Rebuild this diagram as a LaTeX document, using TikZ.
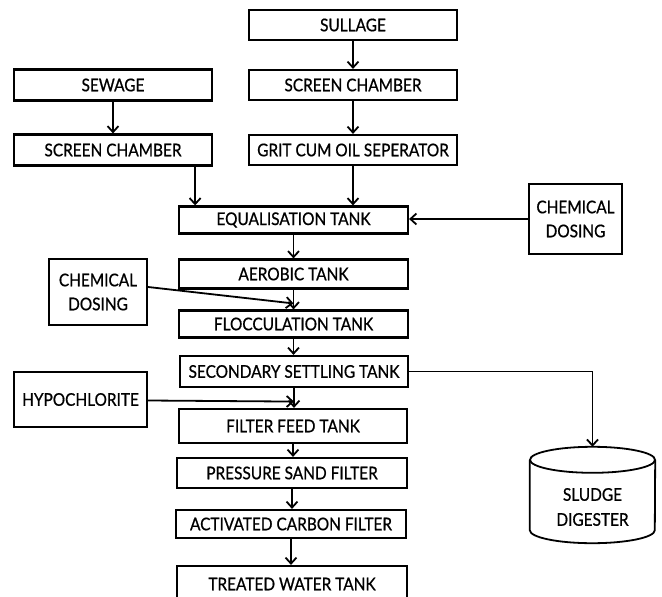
\documentclass[tikz,border=0pt]{standalone}
\usepackage{fontspec}
\setmainfont{Lato}[FakeStretch=0.88,FakeBold=0.8]
\usetikzlibrary{arrows.meta,calc}
\tikzset{
  box/.style={draw, line width=2.2pt, inner sep=0pt, align=center,
    font=\fontsize{17.5}{24}\selectfont},
  arr/.style={line width=1.8pt, -{Straight Barb[length=6pt,width=11pt]}},
  plain/.style={line width=1.8pt}
}
\begin{document}
\begin{tikzpicture}[x=1pt,y=-1pt]
\useasboundingbox (0,0) rectangle (662,597);
% right branch
\node[box, minimum width=208pt, minimum height=30pt] (sul) at (353,25) {SULLAGE};
\node[box, minimum width=208pt, minimum height=30pt] (scR) at (353,85) {SCREEN CHAMBER};
\node[box, minimum width=208pt, minimum height=30pt] (grit) at (353,150) {GRIT CUM OIL SEPERATOR};
% left branch
\node[box, minimum width=198pt, minimum height=31pt] (sew) at (113,85) {SEWAGE};
\node[box, minimum width=198pt, minimum height=31pt] (scL) at (113,150) {SCREEN CHAMBER};
% main chain
\node[box, minimum width=229pt, minimum height=27pt] (eq) at (293.5,220) {EQUALISATION TANK};
\node[box, minimum width=93pt, minimum height=70pt] (chemR) at (575.5,219) {CHEMICAL\\DOSING};
\node[box, minimum width=229pt, minimum height=29pt] (aer) at (293.5,274) {AEROBIC TANK};
\node[box, minimum width=98pt, minimum height=66pt] (chemL) at (98,292) {CHEMICAL\\DOSING};
\node[box, minimum width=229pt, minimum height=27pt] (floc) at (293.5,324) {FLOCCULATION TANK};
\node[box, minimum width=228pt, minimum height=31pt] (sec) at (294,371.5) {SECONDARY SETTLING TANK};
\node[box, minimum width=133pt, minimum height=55pt] (hypo) at (80.5,399.5) {HYPOCHLORITE};
\node[box, minimum width=228pt, minimum height=34pt] (ffeed) at (293,426) {FILTER FEED TANK};
\node[box, minimum width=230pt, minimum height=30pt] (psf) at (292,473) {PRESSURE SAND FILTER};
\node[box, minimum width=230pt, minimum height=28pt] (acf) at (291,524) {ACTIVATED CARBON FILTER};
\node[box, minimum width=230pt, minimum height=36pt] (twt) at (292,584) {TREATED WATER TANK};
% sludge digester (cylinder outline around an empty named node)
\node[inner sep=0pt, minimum width=125pt, minimum height=96pt] (dig) at (592.5,495) {};
\draw[plain, fill=white] ($(dig.north west)+(0,13)$) -- ($(dig.south west)+(0,-13)$)
  arc[start angle=180, end angle=360, x radius=62.5, y radius=-13]
  -- ($(dig.north east)+(0,13)$);
\draw[plain] ($(dig.north)+(0,13)$) ellipse[x radius=62.5, y radius=13];
\node[inner sep=0pt, align=center, font=\fontsize{17.5}{25}\selectfont] (diglabel) at (592.5,507) {SLUDGE\\DIGESTER};
% connectors
\draw[arr] (sul.south) -- (scR.north);
\draw[arr] (scR.south) -- (grit.north);
\draw[arr] (sew.south) -- (scL.north);
\draw[arr] ([xshift=-18pt]scL.south east) -- ([xshift=-18pt]scL.south east |- eq.north);
\draw[arr] (grit.south) -- (grit.south |- eq.north);
\draw[arr] (chemR.west) -- (chemR.west -| eq.east);
\draw[arr] (eq.south) -- (eq.south |- aer.north);
\draw[arr] (aer.south) -- (aer.south |- floc.north);
\draw[arr] ([yshift=5pt]chemL.east) -- ($(aer.south)!0.7!(aer.south |- floc.north)$);
\draw[arr] (floc.south) -- (floc.south |- sec.north);
\draw[arr] (sec.south) -- (sec.south |- ffeed.north);
\draw[arr] ([yshift=-1pt]hypo.east) -- ($(sec.south)!0.68!(sec.south |- ffeed.north)$);
\draw[arr] (ffeed.south) -- (ffeed.south |- psf.north);
\draw[arr] (psf.south) -- (psf.south |- acf.north);
\draw[arr] (acf.south) -- (acf.south |- twt.north);
\draw[arr] (sec.east) -| (dig.north);
\end{tikzpicture}
\end{document}
